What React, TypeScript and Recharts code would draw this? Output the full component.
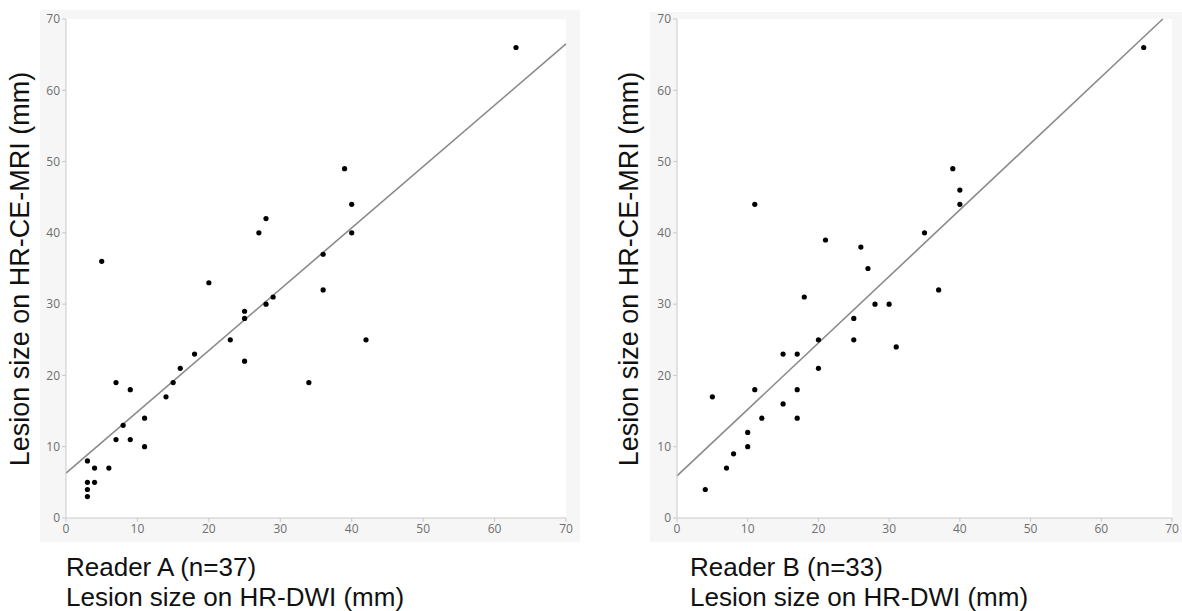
import { ScatterChart, Scatter, XAxis, YAxis, CartesianGrid, ReferenceLine } from "recharts";

// Reader A: HR-DWI size (x) vs HR-CE-MRI size (y), mm
const readerAX = [63, 39, 40, 28, 27, 40, 36, 5, 20, 36, 29, 28, 25, 25, 23, 42, 18, 25, 16, 7, 15, 34, 9, 14, 11, 8, 7, 9, 11, 3, 4, 6, 3, 4, 3, 3];
const readerAY = [66, 49, 44, 42, 40, 40, 37, 36, 33, 32, 31, 30, 29, 28, 25, 25, 23, 22, 21, 19, 19, 19, 18, 17, 14, 13, 11, 11, 10, 8, 7, 7, 5, 5, 4, 3];

// Reader B
const readerBX = [66, 39, 40, 40, 35, 11, 21, 26, 27, 37, 30, 31, 18, 28, 25, 25, 20, 15, 17, 20, 11, 17, 5, 15, 12, 17, 10, 10, 8, 7, 4];
const readerBY = [66, 49, 46, 44, 40, 44, 39, 38, 35, 32, 30, 24, 31, 30, 28, 25, 25, 23, 23, 21, 18, 18, 17, 16, 14, 14, 12, 10, 9, 7, 4];

// fitted lines, endpoints (x, y)
const fitA = [{ x: 0, y: 6.3 }, { x: 70, y: 66.5 }];
const fitB = [{ x: 0, y: 5.9 }, { x: 68.7, y: 70 }];

const ticks = [0, 10, 20, 30, 40, 50, 60, 70];

const dataA = readerAX.map((x, i) => ({ x, y: readerAY[i] }));
const dataB = readerBX.map((x, i) => ({ x, y: readerBY[i] }));

const axisColor = "#c9c9c9";
const tickStyle = { fontSize: 12, fill: "#6e6e6e", fontFamily: "'Open Sans', sans-serif" };
const labelFont = "'Liberation Sans', Arial, sans-serif";

function Dot(props: any) {
  return <circle cx={props.cx} cy={props.cy} r={2.6} fill="#000" />;
}

function Panel(props: {
  data: { x: number; y: number }[];
  fit: { x: number; y: number }[];
  yAxisWidth: number;
  width: number;
  right: number;
}) {
  const { data, fit, yAxisWidth, width, right } = props;
  return (
    <ScatterChart
      width={width}
      height={560}
      margin={{ top: 19, right, bottom: 12, left: 0 }}
      style={{ position: "absolute", left: 0, top: 0 }}
    >
      <CartesianGrid horizontal={false} vertical={false} fill="#ffffff" />
      <XAxis
        type="number"
        dataKey="x"
        domain={[0, 70]}
        ticks={ticks}
        interval={0}
        height={30}
        stroke={axisColor}
        tick={tickStyle}
        tickSize={4}
        allowDataOverflow
      />
      <XAxis xAxisId="top" type="number" orientation="top" domain={[0, 70]} height={0} tick={false} tickLine={false} stroke={axisColor} />
      <YAxis
        type="number"
        dataKey="y"
        domain={[0, 70]}
        ticks={ticks}
        interval={0}
        width={yAxisWidth}
        stroke={axisColor}
        tick={tickStyle}
        tickSize={4}
        allowDataOverflow
      />
      <YAxis yAxisId="right" type="number" orientation="right" domain={[0, 70]} width={0} tick={false} tickLine={false} stroke={axisColor} />
      <ReferenceLine segment={fit} stroke="#8a8a8a" strokeWidth={1.6} />
      <Scatter data={data} fill="#000" shape={<Dot />} isAnimationActive={false} />
    </ScatterChart>
  );
}

const yTitle = "Lesion size on HR-CE-MRI (mm)";

export default function App() {
  return (
    <div style={{ position: "absolute", left: 0, top: 0, width: 1182, height: 611, background: "#fff", overflow: "hidden" }}>
      {/* Reader A */}
      <div style={{ position: "absolute", left: 40, top: 10, width: 540, height: 532, background: "#f6f6f6" }} />
      <div style={{ position: "absolute", left: 0, top: 0, width: 590, height: 560 }}>
        <Panel data={dataA} fit={fitA} yAxisWidth={66} width={590} right={24} />
      </div>
      <div
        style={{
          position: "absolute", left: 20, top: 269, transform: "translate(-50%, -50%) rotate(-90deg)",
          whiteSpace: "nowrap", fontFamily: labelFont, fontSize: 27, color: "#111",
        }}
      >
        {yTitle}
      </div>
      <div style={{ position: "absolute", left: 66, top: 552, fontFamily: labelFont, fontSize: 26, lineHeight: "30px", color: "#111", whiteSpace: "nowrap" }}>
        <div>Reader A (n=37)</div>
        <div>Lesion size on HR-DWI (mm)</div>
      </div>

      {/* Reader B */}
      <div style={{ position: "absolute", left: 650, top: 12, width: 532, height: 530, background: "#f6f6f6" }} />
      <div style={{ position: "absolute", left: 590, top: 0, width: 592, height: 560 }}>
        <Panel data={dataB} fit={fitB} yAxisWidth={87} width={592} right={10} />
      </div>
      <div
        style={{
          position: "absolute", left: 629, top: 269, transform: "translate(-50%, -50%) rotate(-90deg)",
          whiteSpace: "nowrap", fontFamily: labelFont, fontSize: 27, color: "#111",
        }}
      >
        {yTitle}
      </div>
      <div style={{ position: "absolute", left: 690, top: 552, fontFamily: labelFont, fontSize: 26, lineHeight: "30px", color: "#111", whiteSpace: "nowrap" }}>
        <div>Reader B (n=33)</div>
        <div>Lesion size on HR-DWI (mm)</div>
      </div>
    </div>
  );
}
